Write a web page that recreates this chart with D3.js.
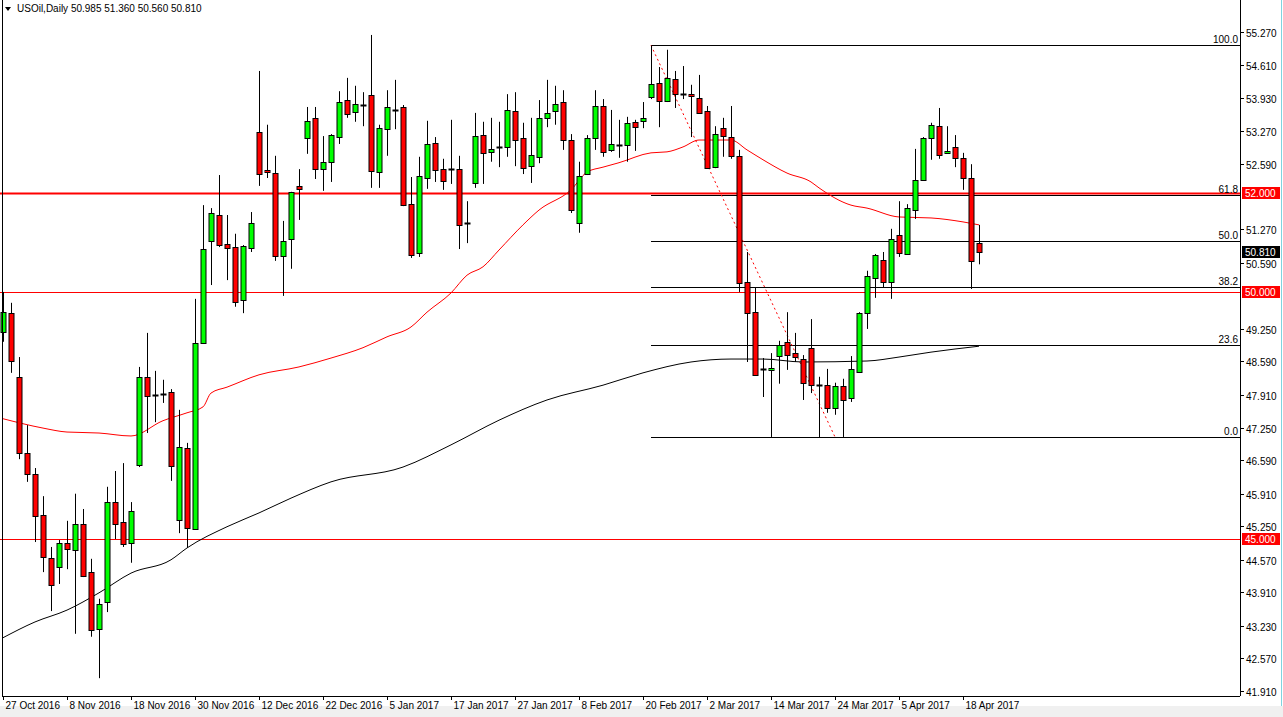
<!DOCTYPE html>
<html><head><meta charset="utf-8">
<script src="https://cdn.jsdelivr.net/npm/d3@7"></script>
<style>body{margin:0;background:#fff;overflow:hidden}svg{display:block}text{font-family:"Liberation Sans",Arial,sans-serif}</style>
</head><body>
<svg id="c" width="1283" height="717"></svg>
<script>
// OHLC per daily bar, starting 27 Oct 2016
const opens  = [49.19,49.57,48.28,46.74,46.31,45.48,44.61,44.42,44.91,44.77,45.30,44.32,43.17,43.72,45.74,45.34,44.91,46.49,48.28,47.92,47.92,47.97,45.38,46.84,45.20,48.97,51.03,51.56,50.97,50.91,49.84,50.89,53.24,52.47,52.41,50.73,51.07,52.15,53.12,53.53,52.49,52.64,53.14,53.89,53.65,53.80,53.99,52.43,53.30,53.68,53.75,51.78,50.79,52.31,53.02,52.49,52.50,52.49,51.37,52.21,53.18,52.84,52.91,52.94,53.67,53.12,52.55,52.74,53.53,53.67,53.85,53.08,51.40,52.39,53.12,53.77,52.88,52.95,52.98,53.45,53.47,53.95,54.24,53.87,54.32,54.02,54.01,53.93,53.67,52.53,53.32,53.14,52.76,50.20,49.59,48.41,48.42,48.70,48.99,48.76,48.64,48.87,48.12,48.11,47.65,48.09,47.85,48.38,49.57,50.28,50.65,50.20,51.16,50.77,51.66,52.27,53.12,53.36,52.82,52.94,52.72,52.31,50.985];
const highs  = [50.00,49.78,48.68,47.30,46.43,45.86,44.83,44.97,45.36,45.91,45.60,44.59,43.78,46.05,46.37,46.53,45.74,48.48,49.17,48.40,48.22,48.03,47.61,46.94,49.86,51.76,51.70,52.37,51.56,51.18,50.95,51.62,54.48,53.39,52.76,51.44,52.03,52.49,53.75,53.75,53.16,53.20,54.07,54.34,54.18,54.05,55.21,53.39,54.09,54.30,53.79,52.33,52.74,53.47,53.14,52.70,53.49,52.76,51.84,53.63,53.45,53.53,53.45,54.01,54.05,53.43,53.53,53.89,54.30,54.18,54.09,53.20,52.64,53.18,54.09,53.91,53.69,53.49,53.55,53.49,53.85,54.99,54.56,54.91,54.48,54.58,54.20,54.40,53.77,53.36,53.53,53.77,52.88,50.81,50.10,48.66,48.76,49.01,49.59,49.17,48.72,49.45,48.28,48.44,48.16,48.24,48.70,49.59,50.43,50.77,50.81,51.28,51.84,51.78,52.90,53.14,53.43,53.73,53.36,53.18,52.82,52.59,51.36];
const lows   = [48.99,48.36,46.61,46.15,44.93,44.32,43.53,44.08,44.38,43.07,44.22,43.01,42.17,43.51,44.99,44.83,44.51,46.45,47.14,47.36,47.75,46.17,45.11,44.81,45.18,48.95,50.14,50.91,50.24,49.70,49.57,50.81,52.15,52.31,50.63,49.92,50.47,51.46,52.80,52.29,52.05,52.23,53.00,53.53,53.45,53.36,52.11,52.11,52.76,53.30,51.74,50.69,50.71,52.09,52.23,52.07,52.19,50.87,50.99,52.11,52.19,52.64,52.53,52.74,52.55,52.39,52.21,52.61,53.34,53.39,52.88,51.60,51.20,52.37,52.88,52.74,52.84,52.72,52.64,52.86,53.32,53.91,53.34,53.85,53.73,53.91,53.14,53.61,52.50,52.51,52.74,52.70,50.00,48.58,48.30,47.87,47.06,48.14,48.42,48.58,47.81,47.95,47.04,47.55,47.51,47.06,47.77,48.36,49.25,49.88,50.10,49.86,50.71,50.75,51.48,52.27,52.68,52.70,52.82,52.53,52.07,50.06,50.56];
const closes = [49.59,48.60,46.74,46.31,45.46,44.63,44.06,44.91,44.79,45.30,44.24,43.15,43.67,45.74,45.30,44.89,45.56,48.28,47.89,47.90,47.94,46.47,46.86,45.22,48.97,50.87,51.60,50.95,50.89,49.80,50.93,51.40,52.39,52.43,50.73,51.03,52.03,52.09,53.47,52.49,52.64,53.18,53.85,53.61,53.81,53.78,52.45,53.32,53.75,53.66,51.76,50.75,52.35,53.00,52.47,52.25,52.48,51.36,51.39,53.16,52.82,52.90,52.93,53.69,53.08,52.51,52.78,53.53,53.63,53.81,53.08,51.66,52.35,53.12,53.77,52.84,53.00,52.97,53.43,53.34,53.53,54.22,53.87,54.34,54.01,54.00,53.97,53.63,52.51,53.20,53.16,52.76,50.18,49.57,48.32,48.43,48.46,48.93,48.72,48.68,48.16,48.11,48.10,47.65,48.09,47.81,48.44,49.57,50.32,50.75,50.20,51.07,50.79,51.70,52.27,53.12,53.39,52.78,52.86,52.72,52.31,50.63,50.81];
// moving averages read at sample bars
const maFastIdx = [0,5,8,12,16,20,23,25,26,28,32,37,41,45,48,51,53,56,58,60,62,65,67,71,73,75,77,81,83,85,87,91,93,95,98,101,102,106,108,112,116,120,122];
const maFastVal = [47.43,47.24,47.16,47.14,47.08,47.39,47.55,47.67,47.95,48.07,48.32,48.48,48.66,48.87,49.09,49.29,49.59,49.98,50.34,50.51,50.85,51.36,51.66,52.07,52.43,52.53,52.62,52.82,52.84,52.94,53.08,53.08,52.88,52.68,52.41,52.23,52.11,51.76,51.70,51.52,51.50,51.42,51.36];
const maSlowIdx = [0,4,8,12,16,21,23,28,32,36,41,50,56,62,68,75,80,86,91,95,100,108,112,116,122];
const maSlowVal = [42.99,43.31,43.55,43.90,44.30,44.57,44.81,45.24,45.52,45.82,46.15,46.45,46.90,47.40,47.81,48.11,48.36,48.58,48.64,48.64,48.58,48.60,48.68,48.78,48.90];
const dateLabels = ["27 Oct 2016","8 Nov 2016","18 Nov 2016","30 Nov 2016","12 Dec 2016","22 Dec 2016","5 Jan 2017","17 Jan 2017","27 Jan 2017","8 Feb 2017","20 Feb 2017","2 Mar 2017","14 Mar 2017","24 Mar 2017","5 Apr 2017","18 Apr 2017"];
const priceTicks = ["55.270","54.610","53.930","53.270","52.590","51.270","50.590","49.250","48.590","47.910","47.250","46.590","45.910","45.250","44.570","43.910","43.230","42.570","41.910"];
const fibLevels = [0,23.6,38.2,50.0,61.8,100.0];
const fibHigh = 55.00, fibLow = 47.06, fibStartIdx = 81, fibEndIdx = 104;
const hLines = [52.0, 50.0, 45.0];
const header = "USOil,Daily  50.985 51.360 50.560 50.810";

const svg = d3.select("#c");
const X0=0, X1=1240, Ybot=696;
const x = d3.scaleLinear().domain([0,120]).range([3,963]);
const y = d3.scaleLinear().domain([41.91,55.27]).range([691,32]);

svg.append("rect").attr("x",0).attr("y",706).attr("width",1283).attr("height",11).attr("fill","#f0f0f0");
hLines.forEach(v=>{
  svg.append("line").attr("x1",X0).attr("x2",X1).attr("y1",Math.round(y(v))+0.5).attr("y2",Math.round(y(v))+0.5)
    .attr("stroke","#ff0000").attr("stroke-width",v===52?2:1);
});
fibLevels.forEach(l=>{
  const p = fibLow + (fibHigh-fibLow)*l/100;
  const yy = Math.round(y(p))+0.5;
  svg.append("line").attr("x1",x(fibStartIdx)).attr("x2",X1).attr("y1",yy).attr("y2",yy).attr("stroke","#000");
  svg.append("text").attr("x",1238).attr("y",yy-3).attr("text-anchor","end").attr("font-size",10).text(l.toFixed(1));
});
svg.append("line").attr("x1",x(fibStartIdx)).attr("y1",y(fibHigh)).attr("x2",x(fibEndIdx)).attr("y2",y(fibLow))
  .attr("stroke","#ff0000").attr("stroke-dasharray","2,3");
const line = d3.line().x(d=>x(d[0])).y(d=>y(d[1])).curve(d3.curveMonotoneX);
svg.append("path").attr("d",line(maSlowIdx.map((d,i)=>[d,maSlowVal[i]]))).attr("fill","none").attr("stroke","#000");
svg.append("path").attr("d",line(maFastIdx.map((d,i)=>[d,maFastVal[i]]))).attr("fill","none").attr("stroke","#ff0000");
const g = svg.append("g");
opens.forEach((o,i)=>{
  const c=closes[i], cx=Math.round(x(i))+0.5;
  g.append("line").attr("x1",cx).attr("x2",cx).attr("y1",y(highs[i])).attr("y2",y(lows[i])).attr("stroke","#000");
  const top=Math.round(y(Math.max(o,c))), bot=Math.round(y(Math.min(o,c)));
  if (bot-top<2) {
    g.append("rect").attr("x",cx-3).attr("y",top-0.5).attr("width",6).attr("height",Math.max(1,bot-top)+1).attr("fill","#000");
  } else {
    g.append("rect").attr("x",cx-2.5).attr("y",top+0.5).attr("width",5).attr("height",bot-top)
      .attr("fill",c>=o?"#00ff00":"#ff0000").attr("stroke","#000");
  }
});
svg.append("line").attr("x1",2.5).attr("x2",2.5).attr("y1",0).attr("y2",Ybot).attr("stroke","#000");
svg.append("line").attr("x1",X1+0.5).attr("x2",X1+0.5).attr("y1",0).attr("y2",Ybot).attr("stroke","#000");
svg.append("line").attr("x1",2).attr("x2",X1).attr("y1",Ybot+0.5).attr("y2",Ybot+0.5).attr("stroke","#000");
svg.append("line").attr("x1",1281.5).attr("x2",1281.5).attr("y1",0).attr("y2",706).attr("stroke","#7fd4e0");
priceTicks.forEach(t=>{
  const yy=Math.round(y(+t))+0.5;
  svg.append("line").attr("x1",X1).attr("x2",X1+4).attr("y1",yy).attr("y2",yy).attr("stroke","#000");
  svg.append("text").attr("x",X1+6).attr("y",yy+4).attr("font-size",10).text(t);
});
dateLabels.forEach((t,i)=>{
  const xx=Math.round(x(i*8))+0.5;
  svg.append("line").attr("x1",xx).attr("x2",xx).attr("y1",Ybot).attr("y2",Ybot+4).attr("stroke","#000");
  svg.append("text").attr("x",xx+2).attr("y",Ybot+13).attr("font-size",10).text(t);
});
function tag(v,col){
  const yy=Math.round(y(v));
  svg.append("rect").attr("x",X1+2).attr("y",yy-6).attr("width",38).attr("height",12).attr("fill",col);
  svg.append("text").attr("x",X1+5).attr("y",yy+4).attr("font-size",10).attr("fill","#fff").text(v.toFixed(3));
}
hLines.forEach(v=>tag(v,"#ff0000"));
tag(closes[closes.length-1],"#000");
svg.append("path").attr("d","M5,7 L11,7 L8,11 Z").attr("fill","#000");
svg.append("text").attr("x",17).attr("y",12).attr("font-size",10).text(header);
</script>
</body></html>
